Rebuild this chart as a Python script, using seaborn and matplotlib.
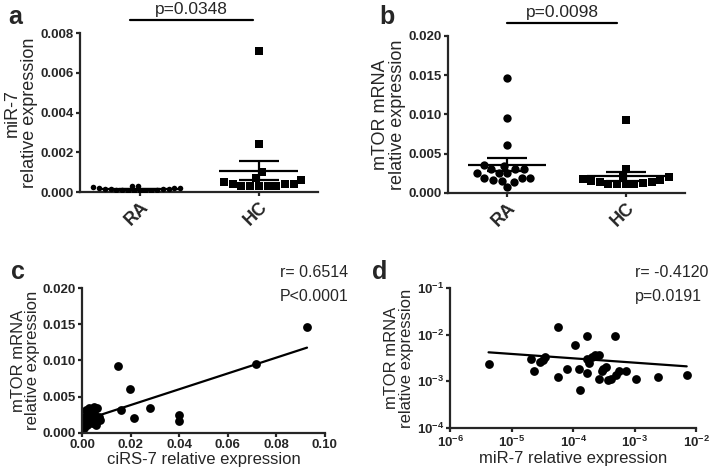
import numpy as np
import pandas as pd
import matplotlib
matplotlib.use("Agg")
import matplotlib.pyplot as plt
import seaborn as sns

sns.set_style("ticks")
plt.rcParams['font.family'] = ['Liberation Sans', 'DejaVu Sans']
plt.rcParams['mathtext.default'] = 'bf'

# --- dati ---
groups = ["RA", "HC"]

# pannello a: miR-7
mir7_ra = [0.00012, 0.00016, 0.00006, 0.00022, 0.00003, 0.00014, 0.00028, 0.00010,
           0.00019, 0.00005, 0.00013, 0.00030, 0.00020, 0.00009, 0.00007, 0.00024,
           0.00015, 0.00002]
mir7_hc = [0.0071, 0.0024, 0.0010, 0.0007, 0.0006, 0.0005, 0.0004, 0.0004,
           0.0004, 0.0003, 0.0003, 0.0003, 0.0003, 0.0003]

# pannello b: mTOR mRNA
mtor_ra = [0.0147, 0.0096, 0.0061, 0.0036, 0.0035, 0.0031, 0.0030, 0.0030, 0.0025,
           0.0025, 0.0025, 0.0019, 0.0019, 0.0019, 0.0015, 0.0014, 0.0017, 0.0007]
mtor_hc = [0.0093, 0.0031, 0.0021, 0.0020, 0.0018, 0.0016, 0.0015, 0.0014,
           0.0013, 0.0012, 0.0012, 0.0011, 0.0011, 0.0014]

p_ab = ["p=0.0348", "p=0.0098"]

# pannello c: ciRS-7 vs mTOR
cirs7_c = [0.0927, 0.0716, 0.0147, 0.0196, 0.0158, 0.0212, 0.0278, 0.0397, 0.0400,
           0.0014, 0.0027, 0.0048, 0.0062, 0.0000, 0.0002, 0.0007, 0.0019, 0.0034,
           0.0041, 0.0055, 0.0068, 0.0075, 0.0014, 0.0027, 0.0034, 0.0001, 0.0003,
           0.0048, 0.0019, 0.0055, 0.0020, 0.0060]
mtor_c = [0.0146, 0.0095, 0.0092, 0.0061, 0.0031, 0.0020, 0.0034, 0.0025, 0.0016,
          0.0031, 0.0034, 0.0036, 0.0034, 0.0015, 0.0010, 0.0006, 0.0015, 0.0018,
          0.0013, 0.0020, 0.0022, 0.0018, 0.0022, 0.0024, 0.0029, 0.0018, 0.0022,
          0.0027, 0.0011, 0.0011, 0.0012, 0.0016]

# pannello d: miR-7 vs mTOR (scala log)
mir7_d = [4.2e-6, 2.06e-5, 2.33e-5, 2.9e-5, 3.2e-5, 3.5e-5, 5.6e-5, 5.6e-5, 8.0e-5,
          1.08e-4, 1.26e-4, 1.3e-4, 1.7e-4, 1.7e-4, 1.7e-4, 1.8e-4, 2.03e-4, 2.3e-4,
          2.6e-4, 2.6e-4, 2.9e-4, 3.1e-4, 3.4e-4, 3.7e-4, 4.1e-4, 4.7e-4, 4.9e-4,
          5.5e-4, 7.2e-4, 1.03e-3, 2.4e-3, 7.0e-3]
mtor_d = [2.4e-3, 3.06e-3, 1.64e-3, 2.6e-3, 2.86e-3, 3.27e-3, 1.44e-2, 1.22e-3, 1.87e-3,
          6.1e-3, 1.87e-3, 6.7e-4, 9.5e-3, 3.06e-3, 1.5e-3, 2.5e-3, 3.27e-3, 3.6e-3,
          3.7e-3, 1.14e-3, 1.64e-3, 1.84e-3, 2.0e-3, 1.06e-3, 1.14e-3, 9.2e-3, 1.38e-3,
          1.64e-3, 1.64e-3, 1.14e-3, 1.25e-3, 1.4e-3]
# retta di regressione in log-log (pendenza, intercetta)
fit_d = (-0.0934, -2.879)

r_c = ["r= 0.6514", "P<0.0001"]
r_d = ["r= -0.4120", "p=0.0191"]

fig = plt.figure(figsize=(7.09, 4.73), dpi=100)
ax_a = fig.add_axes([0.113, 0.594, 0.336, 0.336])
ax_b = fig.add_axes([0.632, 0.592, 0.334, 0.332])
ax_c = fig.add_axes([0.116, 0.085, 0.342, 0.306])
ax_d = fig.add_axes([0.635, 0.095, 0.347, 0.296])

txt_size = 11.5


def style_axis(ax):
    sns.despine(ax=ax)
    for s in ['left', 'bottom']:
        ax.spines[s].set_linewidth(1.6)
    ax.tick_params(width=1.6, length=3, pad=1.5, direction='out')
    for t in ax.get_yticklabels() + ax.get_xticklabels():
        t.set_fontweight('bold')
        t.set_fontsize(9.5)


def dot_panel(ax, ra, hc, ylim, yticks, ylabel, ptxt, p_x, size_ra):
    df = pd.DataFrame({'gruppo': ['RA'] * len(ra) + ['HC'] * len(hc),
                       'valore': ra + hc})
    sns.swarmplot(data=df[df.gruppo == 'RA'], x='gruppo', y='valore', order=groups,
                  marker='o', color='black', size=size_ra, warn_thresh=1, ax=ax)
    sns.swarmplot(data=df[df.gruppo == 'HC'], x='gruppo', y='valore', order=groups,
                  marker='s', color='black', size=6, ax=ax)
    # media +/- SEM
    stats = df.groupby('gruppo')['valore'].agg(['mean', 'sem'])
    for i, g in enumerate(groups):
        m, e = stats.loc[g, 'mean'], stats.loc[g, 'sem']
        ax.hlines(m, i - 0.33, i + 0.33, color='black', lw=1.6, zorder=5)
        ax.hlines([m - e, m + e], i - 0.17, i + 0.17, color='black', lw=1.6, zorder=5)
        ax.vlines(i, m - e, m + e, color='black', lw=1.6, zorder=5)
    ax.set_xlim(-0.5, 1.5)
    ax.set_ylim(*ylim)
    ax.set_yticks(yticks)
    ax.set_yticklabels([f"{v:.3f}" for v in yticks])
    ax.set_xlabel("")
    ax.set_ylabel(ylabel, labelpad=2, fontsize=13, linespacing=1.0)
    style_axis(ax)
    ax.set_xticks([0, 1])
    ax.set_xticklabels(groups, rotation=45, ha='right', rotation_mode='anchor',
                       fontsize=13, fontweight='bold')
    # barra di significativita'
    trans = ax.get_xaxis_transform()
    ax.plot(p_x, [1.085, 1.085], color='black', lw=1.6, transform=trans, clip_on=False)
    ax.text(np.mean(p_x), 1.10, ptxt, transform=trans, ha='center', va='bottom',
            fontsize=12.5)


dot_panel(ax_a, mir7_ra, mir7_hc, (0, 0.008), [0, 0.002, 0.004, 0.006, 0.008],
          "miR-7\nrelative expression", p_ab[0], [-0.08, 0.95], 4.0)
dot_panel(ax_b, mtor_ra, mtor_hc, (0, 0.020), [0, 0.005, 0.010, 0.015, 0.020],
          "mTOR mRNA\nrelative expression", p_ab[1], [0.0, 0.93], 6)

# pannello c
df_c = pd.DataFrame({'cirs7': cirs7_c, 'mtor': mtor_c})
sns.regplot(data=df_c, x='cirs7', y='mtor', ci=None, ax=ax_c, color='black',
            scatter_kws=dict(s=40, linewidths=0, alpha=1), line_kws=dict(lw=1.6))
ax_c.set_xlim(0, 0.10)
ax_c.set_ylim(0, 0.020)
ax_c.set_xticks([0, 0.02, 0.04, 0.06, 0.08, 0.10])
ax_c.set_xticklabels([f"{v:.2f}" for v in [0, 0.02, 0.04, 0.06, 0.08, 0.10]])
ax_c.set_yticks([0, 0.005, 0.010, 0.015, 0.020])
ax_c.set_yticklabels([f"{v:.3f}" for v in [0, 0.005, 0.010, 0.015, 0.020]])
ax_c.set_xlabel("ciRS-7 relative expression", labelpad=1, fontsize=12)
ax_c.set_ylabel("mTOR mRNA\nrelative expression", labelpad=2, fontsize=12, linespacing=0.95)
style_axis(ax_c)
ax_c.text(0.815, 1.11, r_c[0], transform=ax_c.transAxes, ha='left', va='center', fontsize=txt_size)
ax_c.text(0.815, 0.94, r_c[1], transform=ax_c.transAxes, ha='left', va='center', fontsize=txt_size)

# pannello d
df_d = pd.DataFrame({'mir7': mir7_d, 'mtor': mtor_d})
sns.scatterplot(data=df_d, x='mir7', y='mtor', ax=ax_d, color='black', s=40,
                linewidth=0)
xr = np.log10([df_d.mir7.min(), df_d.mir7.max()])
ax_d.plot(10 ** xr, 10 ** (fit_d[0] * xr + fit_d[1]), color='black', lw=1.6)
ax_d.set_xscale('log')
ax_d.set_yscale('log')
ax_d.set_xlim(1e-6, 1e-2)
ax_d.set_ylim(1e-4, 1e-1)
ax_d.set_xticks([1e-6, 1e-5, 1e-4, 1e-3, 1e-2])
ax_d.set_yticks([1e-4, 1e-3, 1e-2, 1e-1])
ax_d.minorticks_off()
ax_d.set_xlabel("miR-7 relative expression", labelpad=1, fontsize=12)
ax_d.set_ylabel("mTOR mRNA\nrelative expression", labelpad=2, fontsize=12, linespacing=0.95)
style_axis(ax_d)
ax_d.text(0.752, 1.11, r_d[0], transform=ax_d.transAxes, ha='left', va='center', fontsize=txt_size)
ax_d.text(0.752, 0.94, r_d[1], transform=ax_d.transAxes, ha='left', va='center', fontsize=txt_size)

# lettere dei pannelli
for lettera, (x, y) in zip("abcd", [(0.012, 0.965), (0.535, 0.965), (0.015, 0.425), (0.525, 0.425)]):
    fig.text(x, y, lettera, fontsize=18, fontweight='bold', ha='left', va='center')

fig.savefig("out.png", dpi=100)
